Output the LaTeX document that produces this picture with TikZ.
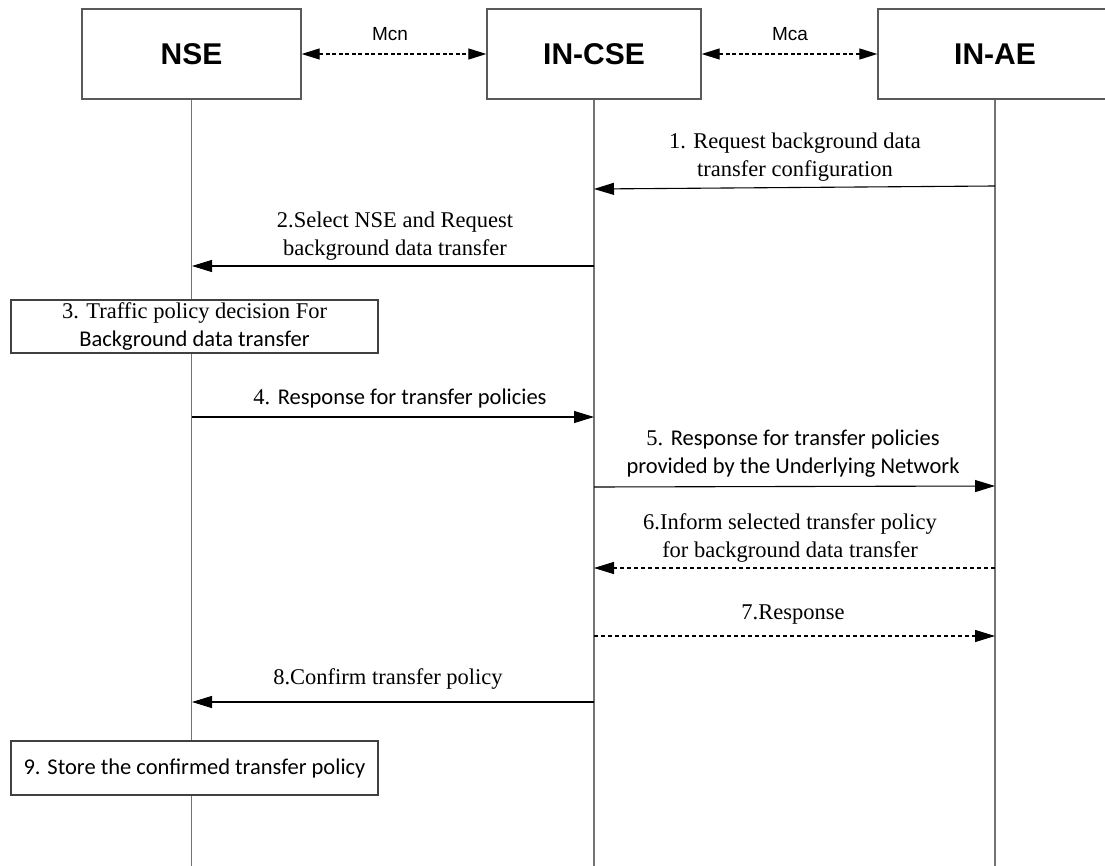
\documentclass[tikz,border=0pt]{standalone}
\usepackage{fontspec}
\setmainfont{Liberation Serif}
\newfontfamily\calfont{Carlito}
\newfontfamily\arialfont{Liberation Sans}
\usetikzlibrary{arrows.meta}
\begin{document}
\begin{tikzpicture}[x=1pt,y=-1pt,
  entity/.style={draw=black!65, line width=1.3pt, minimum height=90pt, inner sep=0pt,
    font=\arialfont\bfseries\fontsize{30}{36}\selectfont},
  lifeline/.style={draw=black!55, line width=1.2pt},
  msg/.style={draw=black, line width=1.1pt, -{Triangle[length=20pt,width=12pt]}},
  reply/.style={msg, dash pattern=on 4pt off 3pt},
  iface/.style={draw=black, line width=1.1pt, dash pattern=on 4pt off 2.5pt,
    {Triangle[length=18pt,width=11pt]}-{Triangle[length=18pt,width=11pt]}},
  lbl/.style={align=center, inner sep=0pt, font=\fontsize{22.5}{28}\selectfont},
  ilbl/.style={inner sep=0pt, font=\arialfont\fontsize{19}{22}\selectfont},
  notebox/.style={draw=black!75, line width=1.1pt, fill=white, align=center, inner sep=0pt,
    minimum width=367pt, font=\fontsize{22.5}{28}\selectfont}]
\useasboundingbox (0,0) rectangle (1105,866);
\fill[white] (0,0) rectangle (1105,866);

% entities
\node[entity, minimum width=219pt] (nse) at (191.5,54) {NSE};
\node[entity, minimum width=214pt] (cse) at (594,54) {IN-CSE};
\node[entity, minimum width=234pt] (ae) at (995,54) {IN-AE};

% lifeline ends
\coordinate (nseB) at (nse.south |- 0,866);
\coordinate (cseB) at (cse.south |- 0,866);
\coordinate (aeB) at (ae.south |- 0,866);
\draw[lifeline] (nse.south) -- (nseB);
\draw[lifeline] (cse.south) -- (cseB);
\draw[lifeline] (ae.south) -- (aeB);

% reference points
\draw[iface] (nse.east) -- (cse.west);
\draw[iface] (cse.east) -- (ae.west);
\node[ilbl] (mcn) at (390,34) {Mcn};
\node[ilbl] (mca) at (790,34) {Mca};

% message anchor points on lifelines
\coordinate (ae1) at (995,186);  \coordinate (cse1) at (594,189);
\coordinate (cse2) at (594,266); \coordinate (nse2) at (192,266);
\coordinate (nse4) at (192,417); \coordinate (cse4) at (594,417);
\coordinate (cse5) at (594,487); \coordinate (ae5) at (995,486);
\coordinate (ae6) at (995,568);  \coordinate (cse6) at (594,568);
\coordinate (cse7) at (594,636); \coordinate (ae7) at (995,636);
\coordinate (cse8) at (594,702); \coordinate (nse8) at (192,702);

% notes on NSE
\node[notebox, minimum height=53pt] (n3) at (194.5,326.5)
  {3. Traffic policy decision For\\{\calfont Background data transfer}};
\node[notebox, minimum height=54pt] (n9) at (194.5,768)
  {\calfont 9. Store the confirmed transfer policy};

% messages
\draw[msg] (ae1) -- (cse1);
\node[lbl] (l1) at (795,157) {1. Request background data\\transfer configuration};
\draw[msg] (cse2) -- (nse2);
\node[lbl] (l2) at (395,236) {2.Select NSE and Request\\background data transfer};
\draw[msg] (nse4) -- (cse4);
\node[lbl] (l4) at (400,399) {4. {\calfont Response for transfer policies}};
\draw[msg] (cse5) -- (ae5);
\node[lbl] (l5) at (793,454) {5. {\calfont Response for transfer policies}\\{\calfont provided by the Underlying Network}};
\draw[reply] (ae6) -- (cse6);
\node[lbl] (l6) at (790,538) {6.Inform selected transfer policy\\for background data transfer};
\draw[reply] (cse7) -- (ae7);
\node[lbl] (l7) at (793,615) {7.Response};
\draw[msg] (cse8) -- (nse8);
\node[lbl] (l8) at (388,679) {8.Confirm transfer policy};
\end{tikzpicture}
\end{document}
